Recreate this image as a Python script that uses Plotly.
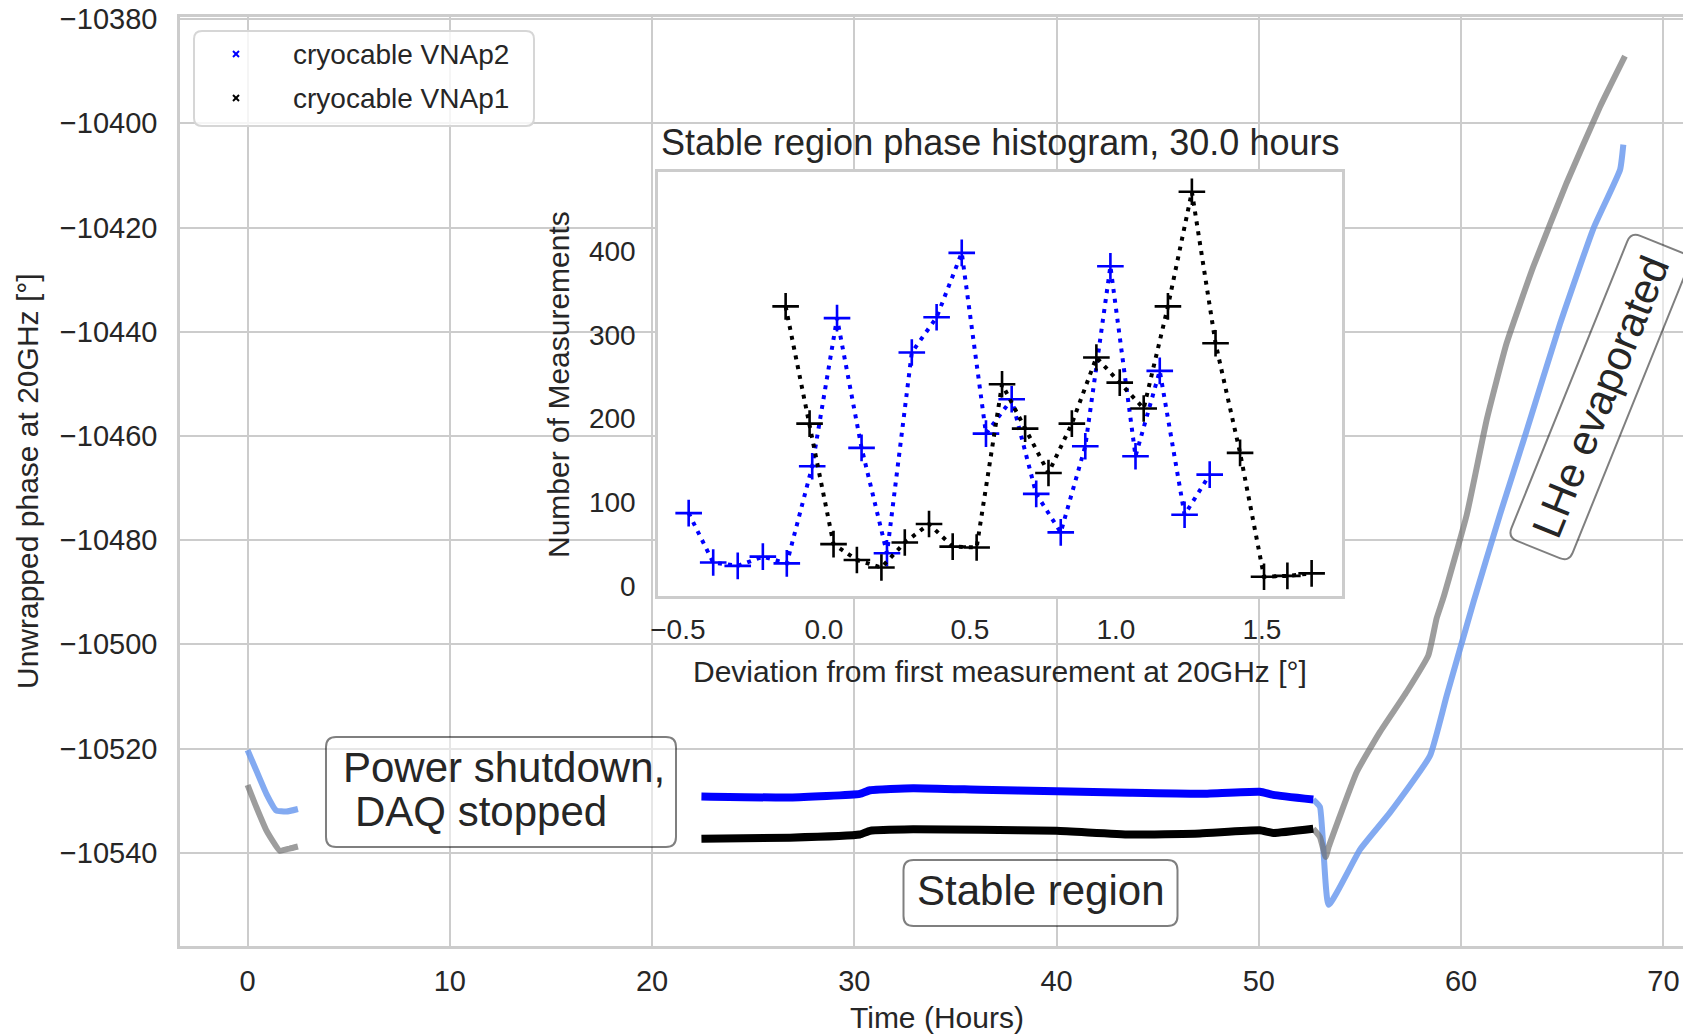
import math
import plotly.graph_objects as go

# ---------------- data ----------------
# main plot: unwrapped phase at 20 GHz vs time (hours)
blue_pre_t = [0.0, 0.43, 0.93, 1.42, 1.92, 2.49]
blue_pre_v = [-10520.3, -10524.2, -10528.7, -10531.9, -10532.1, -10531.6]
black_pre_t = [0.0, 0.43, 0.93, 1.59, 2.08, 2.49]
black_pre_v = [-10527.0, -10531.2, -10535.7, -10539.6, -10539.2, -10538.8]

stable_t = [22.44, 26.81, 30.27, 30.77, 32.91, 36.21, 40.0, 43.62, 47.09, 50.05, 50.71, 52.69]
blue_stable_v = [-10529.2, -10529.4, -10528.7, -10528.0, -10527.6, -10527.9,
                 -10528.2, -10528.5, -10528.7, -10528.3, -10528.9, -10529.8]
black_stable_v = [-10537.3, -10537.1, -10536.5, -10535.8, -10535.5, -10535.6,
                  -10535.8, -10536.5, -10536.3, -10535.7, -10536.2, -10535.4]

blue_post_t = [52.69, 53.02, 53.45, 55.0, 56.48, 58.46, 59.29, 60.61, 61.92, 63.24,
               64.89, 66.54, 67.86, 68.02]
blue_post_v = [-10529.8, -10531.2, -10550.0, -10539.4, -10532.3, -10521.4, -10509.8,
               -10491.9, -10475.1, -10459.0, -10438.5, -10420.2, -10408.9, -10404.1]
black_post_t = [52.69, 53.02, 53.3, 53.45, 54.84, 55.99, 57.31, 58.38, 58.79, 59.12,
                60.28, 61.27, 62.25, 63.57, 65.22, 66.87, 68.1]
black_post_v = [-10535.4, -10537.0, -10540.8, -10538.9, -10524.5, -10516.8, -10509.1,
                -10502.1, -10495.0, -10491.1, -10475.1, -10456.8, -10442.2, -10427.5,
                -10411.4, -10396.8, -10387.1]

x_ticks = [0, 10, 20, 30, 40, 50, 60, 70]
y_ticks = [-10540, -10520, -10500, -10480, -10460, -10440, -10420, -10400, -10380]

# inset: stable region phase histogram
blue_dev = [-0.463, -0.379, -0.295, -0.209, -0.127, -0.040, 0.045, 0.129, 0.216, 0.301,
            0.386, 0.472, 0.555, 0.643, 0.727, 0.811, 0.895, 0.981, 1.067, 1.150,
            1.235, 1.321]
blue_cnt = [87, 28, 24, 35, 27, 143, 320, 165, 39, 279, 321, 398, 182, 223, 110, 64,
            167, 382, 155, 257, 85, 133]
black_dev = [-0.131, -0.049, 0.033, 0.113, 0.197, 0.277, 0.360, 0.441, 0.523, 0.610,
             0.689, 0.769, 0.849, 0.933, 1.013, 1.095, 1.178, 1.260, 1.341, 1.425,
             1.507, 1.587, 1.670]
black_cnt = [334, 194, 50, 31, 22, 52, 74, 47, 46, 241, 188, 135, 194, 273, 243, 212,
             334, 471, 290, 159, 11, 12, 15]

inset_x_ticks = [-0.5, 0.0, 0.5, 1.0, 1.5]
inset_y_ticks = [0, 100, 200, 300, 400]

series_names = ["cryocable VNAp2", "cryocable VNAp1"]

# ---------------- layout helpers ----------------
W, H = 1683, 1036
ML, MR, MT, MB = 180, 0, 17, 90
PW = W - ML - MR
PH = H - MT - MB
FONT = "Liberation Sans, Arial, Helvetica, sans-serif"
TXT = "#262626"
GRID = "#cccccc"


def px(x):
    return (x - ML) / PW


def py(y):
    return 1 - (y - MT) / PH


def fmt(v, nd=0):
    s = f"{abs(v):.{nd}f}"
    return ("\u2212" + s) if v < 0 else s


def rrect_path(cx, cy, w, h, r, ang=0.0):
    a = math.radians(ang)
    d = (math.cos(a), -math.sin(a))
    u = (-math.sin(a), -math.cos(a))

    def P(s, t):
        X = cx + s * d[0] + t * u[0]
        Y = cy + s * d[1] + t * u[1]
        return f"{px(X):.6f},{py(Y):.6f}"

    hw, hh = w / 2, h / 2
    return (f"M {P(-hw + r, hh)} L {P(hw - r, hh)} Q {P(hw, hh)} {P(hw, hh - r)} "
            f"L {P(hw, -hh + r)} Q {P(hw, -hh)} {P(hw - r, -hh)} "
            f"L {P(-hw + r, -hh)} Q {P(-hw, -hh)} {P(-hw, -hh + r)} "
            f"L {P(-hw, hh - r)} Q {P(-hw, hh)} {P(-hw + r, hh)} Z")


LIGHT_BLUE = "rgba(100,149,237,0.8)"
LIGHT_GRAY = "rgba(110,110,110,0.68)"

fig = go.Figure()

# main series
for t, v, c, w in [
    (blue_pre_t, blue_pre_v, LIGHT_BLUE, 6),
    (black_pre_t, black_pre_v, LIGHT_GRAY, 6),
    (blue_post_t, blue_post_v, LIGHT_BLUE, 6),
    (black_post_t, black_post_v, LIGHT_GRAY, 6),
    (stable_t, blue_stable_v, "#0000ff", 8),
    (stable_t, black_stable_v, "#000000", 8),
]:
    fig.add_trace(go.Scatter(x=t, y=v, mode="lines",
                             line=dict(color=c, width=w, shape="spline", smoothing=0.4),
                             showlegend=False, hoverinfo="skip", xaxis="x", yaxis="y"))

# inset series
for dev, cnt, c, name in [(blue_dev, blue_cnt, "#0000ff", series_names[0]),
                          (black_dev, black_cnt, "#000000", series_names[1])]:
    fig.add_trace(go.Scatter(
        x=dev, y=cnt, mode="lines+markers", name=name,
        line=dict(color=c, width=4, dash="4px,6px"),
        marker=dict(symbol="cross-thin", size=19, line=dict(color=c, width=2.6)),
        showlegend=False, hoverinfo="skip", xaxis="x2", yaxis="y2"))

X_RANGE = [-3.34, 70.97]
Y_RANGE = [-10557.9, -10379.6]
IX_RANGE = [-0.568, 1.774]
IY_RANGE = [-12, 494.6]

shapes = []
# white background of the inset axes (drawn in inset subplot layer, above main grid)
shapes.append(dict(type="rect", xref="x2", yref="y2", x0=IX_RANGE[0], x1=IX_RANGE[1],
                   y0=IY_RANGE[0], y1=IY_RANGE[1], fillcolor="white",
                   line=dict(width=0), layer="below"))

BOX_FILL = "rgba(255,255,255,0.5)"
BOX_LINE = "rgba(0,0,0,0.5)"
for cx, cy, w, h, ang in [(501, 792, 350, 110, 0), (1040.5, 893, 274, 66, 0),
                          (1600, 397, 329, 66, 68)]:
    shapes.append(dict(type="path", xref="paper", yref="paper",
                       path=rrect_path(cx, cy, w, h, 10, ang),
                       fillcolor=BOX_FILL, line=dict(color=BOX_LINE, width=2),
                       layer="above"))

# legend frame
shapes.append(dict(type="path", xref="paper", yref="paper",
                   path=rrect_path(364, 78.5, 340, 95, 8),
                   fillcolor="rgba(255,255,255,0.8)",
                   line=dict(color="#d6d6d6", width=2), layer="above"))
# legend markers (small 'x')
for yy, c in [(54, "#0000ff"), (98, "#000000")]:
    for s in (-1, 1):
        shapes.append(dict(type="line", xref="paper", yref="paper",
                           x0=px(236 - 3), x1=px(236 + 3),
                           y0=py(yy - 3 * s), y1=py(yy + 3 * s),
                           line=dict(color=c, width=2), layer="above"))

annotations = []


def ann(text, x, y, size, angle=0, xanchor="center"):
    annotations.append(dict(text=text, x=px(x), y=py(y), xref="paper", yref="paper",
                            xanchor=xanchor, yanchor="middle", showarrow=False,
                            textangle=angle, font=dict(family=FONT, size=size, color=TXT)))


ann("Unwrapped phase at 20GHz [°]", 27, 481, 30, -90)
ann("Time (Hours)", 936.5, 1017.5, 30)
ann("Stable region phase histogram, 30.0 hours", 1000, 143, 36)
ann("Deviation from first measurement at 20GHz [°]", 1000, 671, 30)
ann("Number of Measurements", 558, 385, 30, -90)
ann("Power shutdown,", 341, 767, 42, xanchor="left")
ann("DAQ stopped", 353, 811.5, 42, xanchor="left")
ann("Stable region", 1040.5, 890, 42)
ann("LHe evaporated", 1600, 397, 42, -68)
ann(series_names[0], 291, 54, 28, xanchor="left")
ann(series_names[1], 291, 98, 28, xanchor="left")

fig.update_layout(
    width=W, height=H,
    margin=dict(l=ML, r=MR, t=MT, b=MB, autoexpand=False),
    paper_bgcolor="white", plot_bgcolor="white",
    font=dict(family=FONT, color=TXT),
    showlegend=False, hovermode=False,
    shapes=shapes, annotations=annotations,
    xaxis=dict(domain=[0, 1], range=X_RANGE, tickvals=x_ticks,
               ticktext=[fmt(v) for v in x_ticks], showgrid=True, gridcolor=GRID,
               gridwidth=2, zeroline=False, showline=True, mirror=True,
               linecolor=GRID, linewidth=2.5, ticks="", automargin=False,
               tickfont=dict(family=FONT, size=29, color=TXT), ticklabelstandoff=7),
    yaxis=dict(domain=[0, 1], range=Y_RANGE, tickvals=y_ticks,
               ticktext=[fmt(v) for v in y_ticks], showgrid=True, gridcolor=GRID,
               gridwidth=2, zeroline=False, showline=True, mirror=False,
               linecolor=GRID, linewidth=2.5, ticks="", automargin=False,
               tickfont=dict(family=FONT, size=29, color=TXT), ticklabelstandoff=14),
    xaxis2=dict(domain=[px(658), px(1342)], range=IX_RANGE, anchor="y2",
                tickvals=inset_x_ticks, ticktext=[fmt(v, 1) for v in inset_x_ticks],
                showgrid=False, zeroline=False, showline=True, mirror=True,
                linecolor=GRID, linewidth=2.5, ticks="", automargin=False,
                tickfont=dict(family=FONT, size=28, color=TXT), ticklabelstandoff=7),
    yaxis2=dict(domain=[py(596), py(172)], range=IY_RANGE, anchor="x2",
                tickvals=inset_y_ticks, ticktext=[fmt(v) for v in inset_y_ticks],
                showgrid=False, zeroline=False, showline=True, mirror=True,
                linecolor=GRID, linewidth=2.5, ticks="", automargin=False,
                tickfont=dict(family=FONT, size=28, color=TXT), ticklabelstandoff=14),
)

fig.write_html("out.html", include_plotlyjs=True, config={"displayModeBar": False})
